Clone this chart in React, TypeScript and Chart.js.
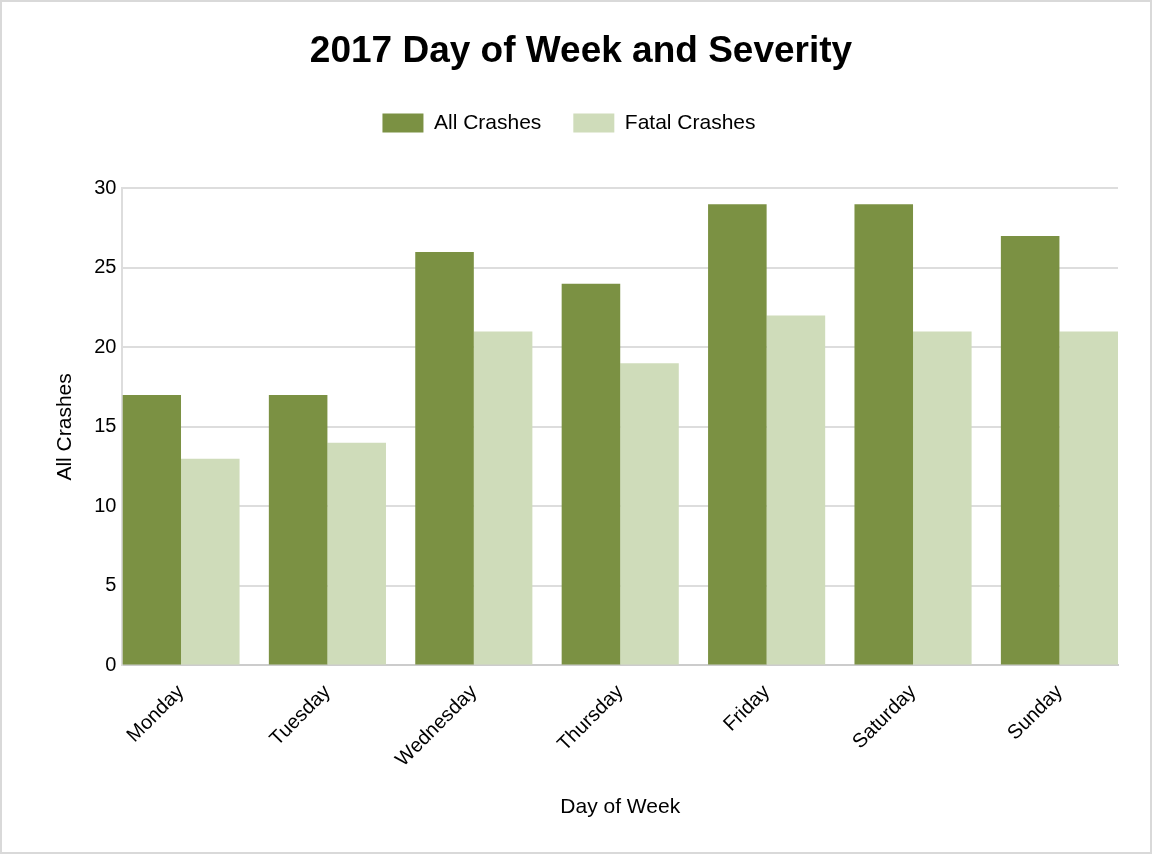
import React, { useEffect, useRef } from "react";
import { Chart, registerables } from "chart.js";

Chart.register(...registerables);

const categories = ["Monday", "Tuesday", "Wednesday", "Thursday", "Friday", "Saturday", "Sunday"];
const allCrashes = [17, 17, 26, 24, 29, 29, 27];
const fatalCrashes = [13, 14, 21, 19, 22, 21, 21];
const yTicks = [0, 5, 10, 15, 20, 25, 30];

const GROUP = 0.8;

export default function App() {
  const ref = useRef<HTMLCanvasElement | null>(null);

  useEffect(() => {
    document.body.style.margin = "0";
    const ctx = ref.current;
    if (!ctx) return;
    const font = "'Liberation Sans', Arial, sans-serif";
    const legendSpacer = {
      id: "legendSpacer",
      beforeInit(chart: any) {
        const lg = chart.legend;
        if (!lg) return;
        const orig = lg.fit;
        lg.fit = function () {
          orig.call(this);
          this.height += 45;
        };
      },
      afterLayout(chart: any) {
        const lg = chart.legend;
        if (!lg) return;
        lg.left -= 12;
        lg.right -= 12;
      },
    };
    const chart = new Chart(ctx, {
      type: "bar",
      data: {
        labels: categories,
        datasets: [
          {
            label: "All Crashes",
            data: allCrashes,
            backgroundColor: "#7b9143",
            borderWidth: 0,
            barPercentage: 1,
            categoryPercentage: GROUP,
          },
          {
            label: "Fatal Crashes",
            data: fatalCrashes,
            backgroundColor: "#cfdcba",
            borderWidth: 0,
            barPercentage: 1,
            categoryPercentage: GROUP,
          },
        ],
      },
      plugins: [legendSpacer],
      options: {
        animation: false,
        responsive: false,
        maintainAspectRatio: false,
        layout: { padding: { left: 42, right: 32, top: 4, bottom: 15 } },
        plugins: {
          title: {
            display: true,
            text: "2017 Day of Week and Severity",
            color: "#000",
            font: { family: font, size: 37, weight: "bold" },
            padding: { top: 24, bottom: 6 },
          },
          legend: {
            display: true,
            position: "top",
            labels: {
              color: "#000",
              boxWidth: 41,
              boxHeight: 19,
              padding: 32,
              font: { family: font, size: 21 },
            },
          },
          tooltip: { enabled: false },
        },
        scales: {
          x: {
            afterBuildTicks: (axis: any) => {
              axis._startValue = -GROUP / 2;
              axis._valueRange = categories.length - 1 + GROUP;
            },
            grid: { display: false, drawTicks: false },
            border: { display: true, color: "#cccccc", width: 2 },
            ticks: {
              color: "#000",
              font: { family: font, size: 20 },
              maxRotation: 45,
              minRotation: 45,
              padding: 15,
            },
            title: {
              display: true,
              text: "Day of Week",
              color: "#000",
              font: { family: font, size: 21 },
              padding: { top: 8, bottom: 17 },
            },
          },
          y: {
            min: 0,
            max: 30,
            afterBuildTicks: (axis: any) => {
              axis.ticks = yTicks.map((v) => ({ value: v }));
            },
            grid: { color: "#dddddd", lineWidth: 2, drawTicks: false },
            border: { display: true, color: "#dddddd", width: 2 },
            ticks: {
              color: "#000",
              font: { family: font, size: 20 },
              padding: 6,
            },
            title: {
              display: true,
              text: "All Crashes",
              color: "#000",
              font: { family: font, size: 21 },
              padding: { top: 9, bottom: 10 },
            },
          },
        },
      },
    });
    return () => chart.destroy();
  }, []);

  return (
    <div
      style={{
        position: "absolute",
        left: 0,
        top: 0,
        width: 1152,
        height: 854,
        boxSizing: "border-box",
        border: "2px solid #d9d9d9",
        background: "#fff",
      }}
    >
      <canvas ref={ref} width={1148} height={850} style={{ display: "block" }} />
    </div>
  );
}
